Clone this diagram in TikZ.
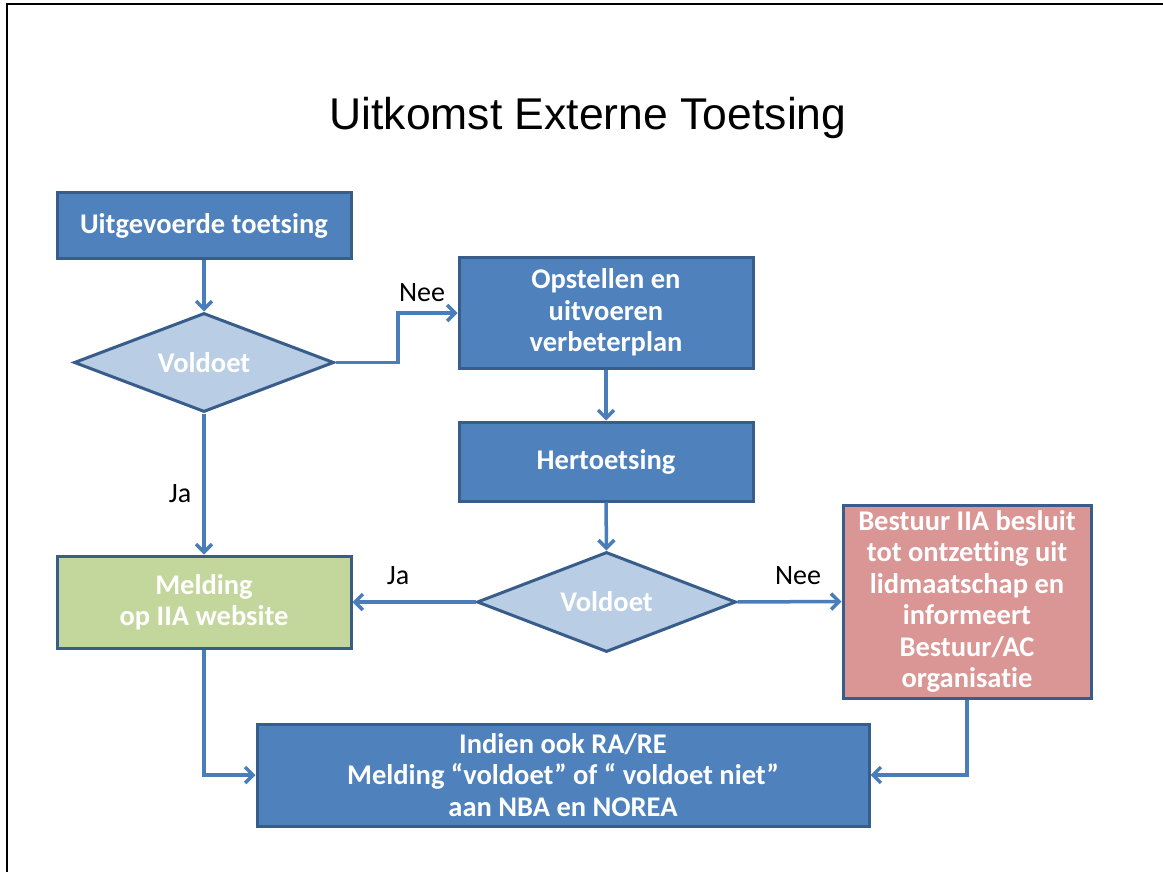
\documentclass[tikz,border=0pt]{standalone}
\usepackage{fontspec}
\setmainfont{Carlito}[Ligatures=NoCommon]
\newfontfamily\titlefont{Liberation Sans}
\newcommand{\nolig}{\kern0pt\relax}
\usetikzlibrary{shapes.geometric,arrows.meta}
\definecolor{boxblue}{HTML}{4F81BD}
\definecolor{boxedge}{HTML}{385D8A}
\definecolor{diafill}{HTML}{B9CDE5}
\definecolor{greenfill}{HTML}{C3D69B}
\definecolor{redfill}{HTML}{D99694}
\definecolor{linkblue}{HTML}{4A7EBB}
\tikzset{
  bx/.style={draw=boxedge, line width=3pt, fill=boxblue, rectangle, inner sep=0pt,
    text=white, font=\fontsize{28.5}{31.5}\selectfont\bfseries, align=center},
  dia/.style={draw=boxedge, line width=3pt, fill=diafill, diamond, shape aspect=2.6, inner sep=0pt,
    text=white, font=\fontsize{28.5}{31.5}\selectfont\bfseries},
  conn/.style={draw=linkblue, line width=3.5pt, -{Straight Barb[length=8pt,width=16pt]}},
  lbl/.style={font=\fontsize{28}{31}\selectfont, text=black, inner sep=0pt}
}
\begin{document}
\begin{tikzpicture}[x=1pt,y=-1pt]
\useasboundingbox (0,0) rectangle (1163,872);
\fill[white] (0,0) rectangle (1163,872);
\draw[black, line width=2.5pt] (7,872) -- (7,4) -- (1163,4);
\node[font=\titlefont\fontsize{44.5}{50}\selectfont] (title) at (588,118) {Uitkomst Externe Toetsing};

\node[bx, minimum width=294pt, minimum height=65pt] (b1) at (204,225.5) {\raisebox{-5pt}{Uitgevoerde toetsing}};
\node[dia, minimum width=260pt, minimum height=99pt] (d1) at (204,362.5) {\raisebox{-3pt}{Voldoet}};
\node[bx, minimum width=294pt, minimum height=111pt] (b2) at (606,312.5) {Opstellen en\\uitvoeren\\verbeterplan};
\node[bx, minimum width=294pt, minimum height=79pt] (b3) at (606,461.5) {\raisebox{-4pt}{Hertoetsing}};
\node[dia, minimum width=259pt, minimum height=100pt] (d2) at (606.5,602) {\raisebox{-3pt}{Voldoet}};
\node[bx, fill=greenfill, minimum width=294pt, minimum height=92pt] (mel) at (204,602) {Melding\\op IIA website};
\node[bx, fill=redfill, minimum width=248pt, minimum height=193pt] (red) at (967,601.5) {Bestuur IIA besluit\\tot ontzett\nolig ing uit\\lidmaatschap en\\informeert\\Bestuur/AC\\organisat\nolig ie};
\node[bx, minimum width=612pt, minimum height=102pt] (bot) at (563,775) {Indien ook RA/RE\\Melding “voldoet” of “ voldoet niet”\\aan NBA en NOREA};

\coordinate (k1) at (398,313);
\draw[conn] (b1.south) -- (d1.north);
\draw[conn] (d1.east) -| (k1) -- (b2.west |- k1);
\draw[conn] (b2.south) -- (b3.north);
\draw[conn] (b3.south) -- (d2.north);
\draw[conn] (d1.south) -- (mel.north);
\draw[conn] (d2.west) -- (mel.east);
\draw[conn] (d2.east) -- (red.west);
\draw[conn] (mel.south) |- (bot.west);
\draw[conn] (red.south) |- (bot.east);

\node[lbl] (l1) at (422,293) {Nee};
\node[lbl] (l2) at (180,494) {Ja};
\node[lbl] (l3) at (398,576) {Ja};
\node[lbl] (l4) at (798,576) {Nee};
\end{tikzpicture}
\end{document}
